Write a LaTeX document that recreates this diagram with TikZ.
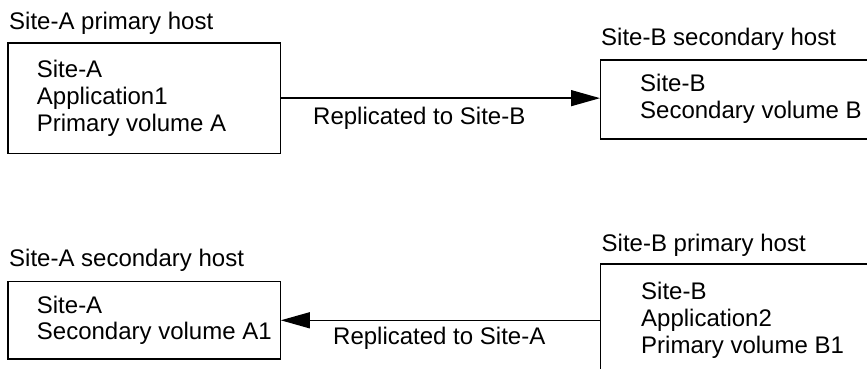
\documentclass[tikz,border=0pt]{standalone}
\usepackage{fontspec}
\setmainfont{Liberation Sans}
\usetikzlibrary{arrows.meta}
\tikzset{
  boxnode/.style={draw=black, line width=1.3pt, rectangle, inner sep=0pt, anchor=north west},
  txt/.style={inner sep=0pt, anchor=base west, font=\fontsize{24}{26.7}\selectfont},
  arr/.style={draw=black, line width=1.3pt, -{Triangle[length=29pt, width=16pt]}}
}
\begin{document}
\begin{tikzpicture}[x=1pt, y=1pt]
\useasboundingbox (0,0) rectangle (867,369);
\clip (0,0) rectangle (867,369);
% top row
\node[txt] (la) at (9,339) {Site-A primary host};
\node[boxnode, minimum width=272.2pt, minimum height=110.4pt] (pa) at (7.3,326.7) {};
\node[txt] (ta) at (36.7,291) {\vtop{\hbox{Site-A}\hbox{Application1}\hbox{Primary volume A}}};
\node[txt] (lb) at (601,323) {Site-B secondary host};
\node[boxnode, minimum width=300pt, minimum height=79pt] (pb) at (600,309.7) {};
\node[txt] (tb) at (640,277.3) {\vtop{\hbox{Site-B}\hbox{Secondary volume B}}};
\draw[arr] (pa.east) -- (pa.east -| pb.west);
\node[txt] (rb) at (313,244) {Replicated to Site-B};
% bottom row
\node[txt] (lc) at (9,102.3) {Site-A secondary host};
\node[boxnode, minimum width=272.2pt, minimum height=77.3pt] (pc) at (7.3,88) {};
\node[txt] (tc) at (36.7,55.7) {\vtop{\hbox{Site-A}\hbox{Secondary volume A1}}};
\node[txt] (ld) at (601.5,117) {Site-B primary host};
\node[boxnode, minimum width=300pt, minimum height=150pt] (pd) at (600,105.7) {};
\node[txt] (td) at (641,69) {\vtop{\hbox{Site-B}\hbox{Application2}\hbox{Primary volume B1}}};
\draw[arr] (pc.east -| pd.west) -- (pc.east);
\node[txt] (ra) at (333,24) {Replicated to Site-A};
\end{tikzpicture}
\end{document}
